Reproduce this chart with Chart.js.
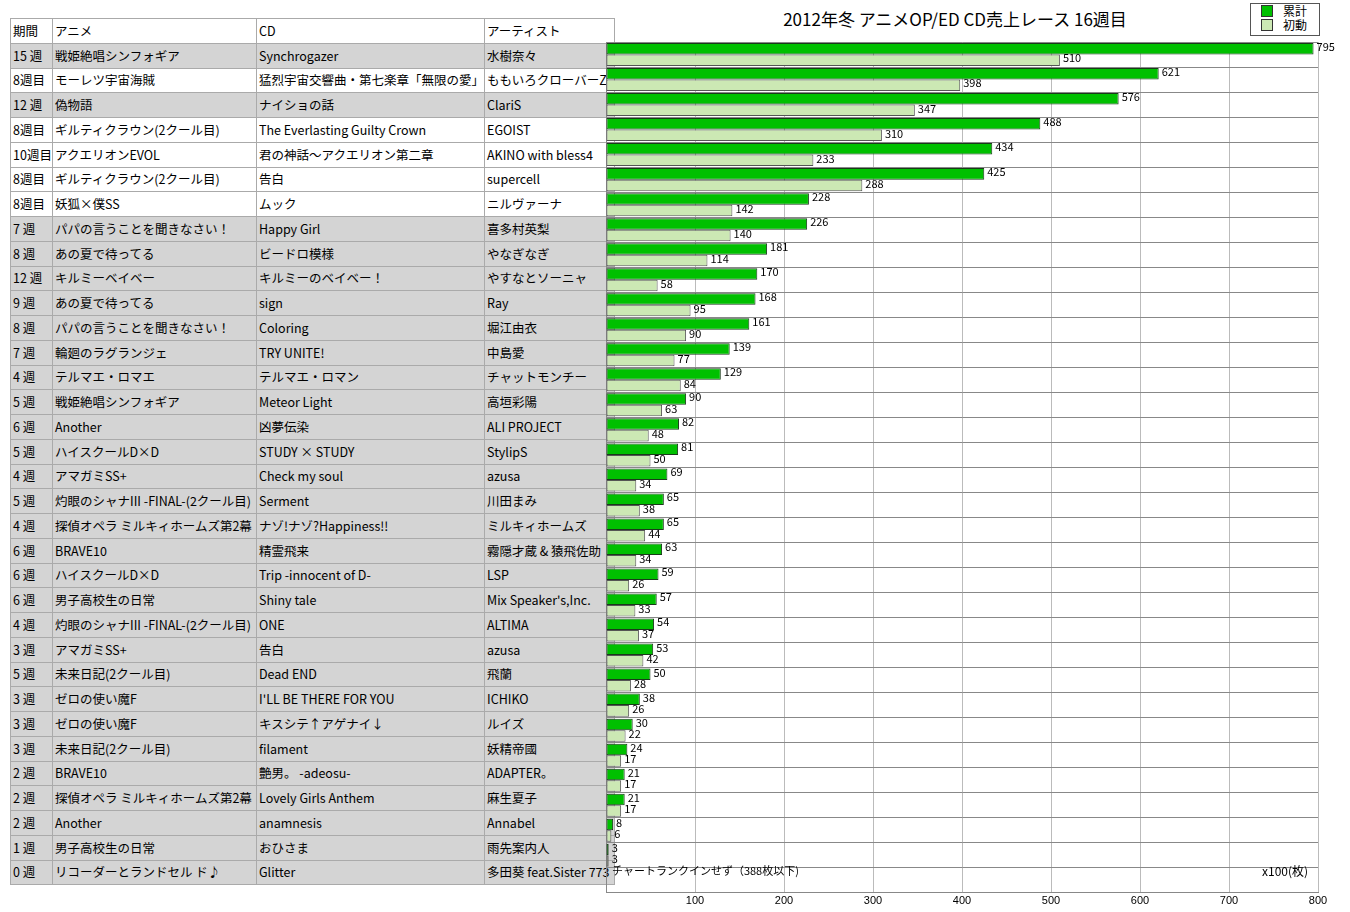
<!DOCTYPE html>
<html><head><meta charset="utf-8">
<script src="https://cdn.jsdelivr.net/npm/chart.js@4"></script>
<style>
body{margin:0;width:1350px;height:912px;background:#fff;font-family:"Noto Sans CJK JP",sans-serif;position:relative;overflow:hidden}
#tbl{position:absolute;left:10px;top:18px;border-collapse:collapse;font-size:12.5px;table-layout:fixed}
#tbl td{border:1px solid #aaa;height:23.76px;padding:0 0 0 2px;white-space:nowrap;overflow:hidden;line-height:14px}
#tbl tr.g td{background:#d4d4d4}
#title{position:absolute;left:700px;top:6px;width:510px;text-align:center;font-size:17px}
#legend{position:absolute;left:1250px;top:3px;width:68px;height:31px;border:1px solid #555;font-size:12px;line-height:14px}
#legend div{padding-left:10px}
#legend span{display:inline-block;width:10px;height:10px;border:1px solid #333;margin-right:10px;vertical-align:-1px}
#cw{position:absolute;left:600px;top:0;width:750px;height:912px}
.note{position:absolute;font-size:11px;top:862px}
</style></head><body>
<table id="tbl"><colgroup><col style="width:42px"><col style="width:204px"><col style="width:220px"><col style="width:130px"></colgroup><tbody id="tb"></tbody></table>
<div id="title">2012年冬 アニメOP/ED CD売上レース 16週目</div>
<div id="legend"><div><span style="background:#00c000"></span>累計</div><div><span style="background:#cce8b4"></span>初動</div></div>
<div id="cw"><canvas id="c"></canvas></div>
<div class="note" style="left:612px">チャートランクインせず（388枚以下)</div>
<div class="note" style="left:1262px;font-size:12px">x100(枚)</div>
<script>
const periods = ['15 週','8週目','12 週','8週目','10週目','8週目','8週目','7 週','8 週','12 週','9 週','8 週','7 週','4 週','5 週','6 週','5 週','4 週','5 週','4 週','6 週','6 週','6 週','4 週','3 週','5 週','3 週','3 週','3 週','2 週','2 週','2 週','1 週','0 週'];
const animes = ['戦姫絶唱シンフォギア','モーレツ宇宙海賊','偽物語','ギルティクラウン(2クール目)','アクエリオンEVOL','ギルティクラウン(2クール目)','妖狐×僕SS','パパの言うことを聞きなさい！','あの夏で待ってる','キルミーベイベー','あの夏で待ってる','パパの言うことを聞きなさい！','輪廻のラグランジェ','テルマエ・ロマエ','戦姫絶唱シンフォギア','Another','ハイスクールD×D','アマガミSS+','灼眼のシャナIII -FINAL-(2クール目)','探偵オペラ ミルキィホームズ第2幕','BRAVE10','ハイスクールD×D','男子高校生の日常','灼眼のシャナIII -FINAL-(2クール目)','アマガミSS+','未来日記(2クール目)','ゼロの使い魔F','ゼロの使い魔F','未来日記(2クール目)','BRAVE10','探偵オペラ ミルキィホームズ第2幕','Another','男子高校生の日常','リコーダーとランドセル ド♪'];
const cds = ['Synchrogazer','猛烈宇宙交響曲・第七楽章「無限の愛」','ナイショの話','The Everlasting Guilty Crown','君の神話～アクエリオン第二章','告白','ムック','Happy Girl','ビードロ模様','キルミーのベイベー！','sign','Coloring','TRY UNITE!','テルマエ・ロマン','Meteor Light','凶夢伝染','STUDY × STUDY','Check my soul','Serment','ナゾ!ナゾ?Happiness!!','精霊飛来','Trip -innocent of D-','Shiny tale','ONE','告白','Dead END',"I'LL BE THERE FOR YOU",'キスシテ↑アゲナイ↓','filament','艶男。 -adeosu-','Lovely Girls Anthem','anamnesis','おひさま','Glitter'];
const artists = ['水樹奈々','ももいろクローバーZ','ClariS','EGOIST','AKINO with bless4','supercell','ニルヴァーナ','喜多村英梨','やなぎなぎ','やすなとソーニャ','Ray','堀江由衣','中島愛','チャットモンチー','高垣彩陽','ALI PROJECT','StylipS','azusa','川田まみ','ミルキィホームズ','霧隠才蔵 & 猿飛佐助','LSP',"Mix Speaker's,Inc.",'ALTIMA','azusa','飛蘭','ICHIKO','ルイズ','妖精帝國','ADAPTER。','麻生夏子','Annabel','雨先案内人','多田葵 feat.Sister 773'];
const totals = [795,621,576,488,434,425,228,226,181,170,168,161,139,129,90,82,81,69,65,65,63,59,57,54,53,50,38,30,24,21,21,8,3,null];
const firsts = [510,398,347,310,233,288,142,140,114,58,95,90,77,84,63,48,50,34,38,44,34,26,33,37,42,28,26,22,17,17,17,6,3,null];
const xTicks = [0,100,200,300,400,500,600,700,800];

const tb = document.getElementById('tb');
let h = '<tr><td>期間</td><td>アニメ</td><td>CD</td><td>アーティスト</td></tr>';
periods.forEach((p, i) => {
    const g = (i === 0 || i === 2 || i >= 7) ? ' class="g"' : '';
    h += `<tr${g}><td>${p}</td><td>${animes[i]}</td><td>${cds[i]}</td><td>${artists[i]}</td></tr>`;
});
tb.innerHTML = h;

//値ラベル
const valueLabels = {
    id: 'valueLabels',
    afterDatasetsDraw(chart) {
        const ctx = chart.ctx;
        ctx.save();
        ctx.font = '11px "Noto Sans CJK JP", sans-serif';
        ctx.fillStyle = '#000';
        ctx.textBaseline = 'middle';
        chart.data.datasets.forEach((ds, di) => {
            chart.getDatasetMeta(di).data.forEach((bar, i) => {
                if (ds.data[i] == null) return;
                ctx.fillText(ds.data[i], bar.x + 3, bar.y - 2);
            });
        });
        ctx.restore();
    }
};

new Chart(document.getElementById('c'), {
    type: 'bar',
    data: {
        labels: cds,
        datasets: [
            { label: '累計', data: totals, backgroundColor: '#00c000', borderColor: '#1a3a1a', borderWidth: 1, borderSkipped: false },
            { label: '初動', data: firsts, backgroundColor: '#cce8b4', borderColor: '#555', borderWidth: 1, borderSkipped: false }
        ]
    },
    options: {
        indexAxis: 'y',
        responsive: true,
        maintainAspectRatio: false,
        animation: false,
        datasets: { bar: { categoryPercentage: 0.92, barPercentage: 1 } },
        layout: { padding: { left: 6, right: 32, top: 42, bottom: 2 } },
        plugins: { legend: { display: false }, tooltip: { enabled: false } },
        scales: {
            x: {
                min: 0, max: 800,
                afterBuildTicks: (ax) => { ax.ticks = xTicks.map(v => ({ value: v })); },
                ticks: { callback: v => v === 0 ? '' : v, font: { size: 11 }, color: '#000', padding: 2, maxRotation: 0 },
                grid: { color: '#bbb', drawTicks: false },
                border: { color: '#888' }
            },
            y: {
                ticks: { display: false },
                grid: { color: '#888', drawTicks: false, offset: true },
                border: { color: '#888' }
            }
        }
    },
    plugins: [valueLabels]
});
</script>
</body></html>
